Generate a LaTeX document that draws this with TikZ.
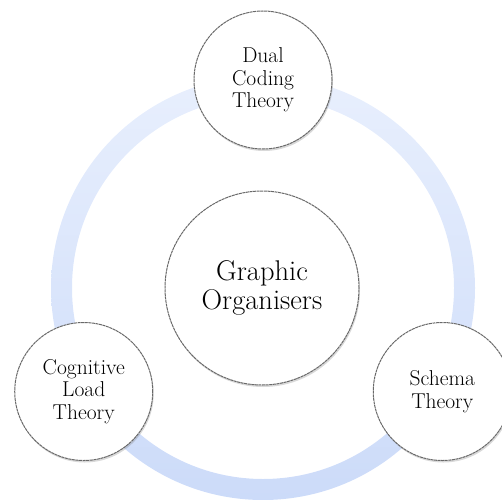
\documentclass[tikz,border=0pt]{standalone}
\usetikzlibrary{shadows}
\definecolor{ringtop}{RGB}{232,239,253}
\definecolor{ringbot}{RGB}{204,219,249}
\definecolor{rimgrey}{RGB}{105,105,105}
\tikzset{
  theory/.style={circle, fill=white, draw=rimgrey, line width=1pt,
    dash pattern=on 3pt off 0.6pt, minimum size=138pt, inner sep=0pt,
    align=center, font=\fontsize{21.5}{22.5}\selectfont,
    drop shadow={opacity=0.3, shadow xshift=1pt, shadow yshift=-2pt}},
  hub/.style={theory, minimum size=194pt, font=\fontsize{28.5}{28.5}\selectfont}
}
\begin{document}
\begin{tikzpicture}[x=1pt,y=1pt]
  \useasboundingbox (0,0) rectangle (502,499);
  \coordinate (centre) at (263,211);

  % Ring
  \shade[top color=ringtop, bottom color=ringbot, even odd rule]
    (centre) circle (212) (centre) circle (191);

  % Centre
  \node[hub] (graphic) at (262,211) {Graphic\\Organisers};

  % Theories round the ring
  \node[theory] (dual) at ([shift={(90:208)}]centre) {Dual\\Coding\\Theory};
  \node[theory] (cognitive) at ([shift={(210:207)}]centre) {Cognitive\\Load\\Theory};
  \node[theory] (schema) at ([shift={(330:207)}]centre) {Schema\\Theory};
\end{tikzpicture}
\end{document}
